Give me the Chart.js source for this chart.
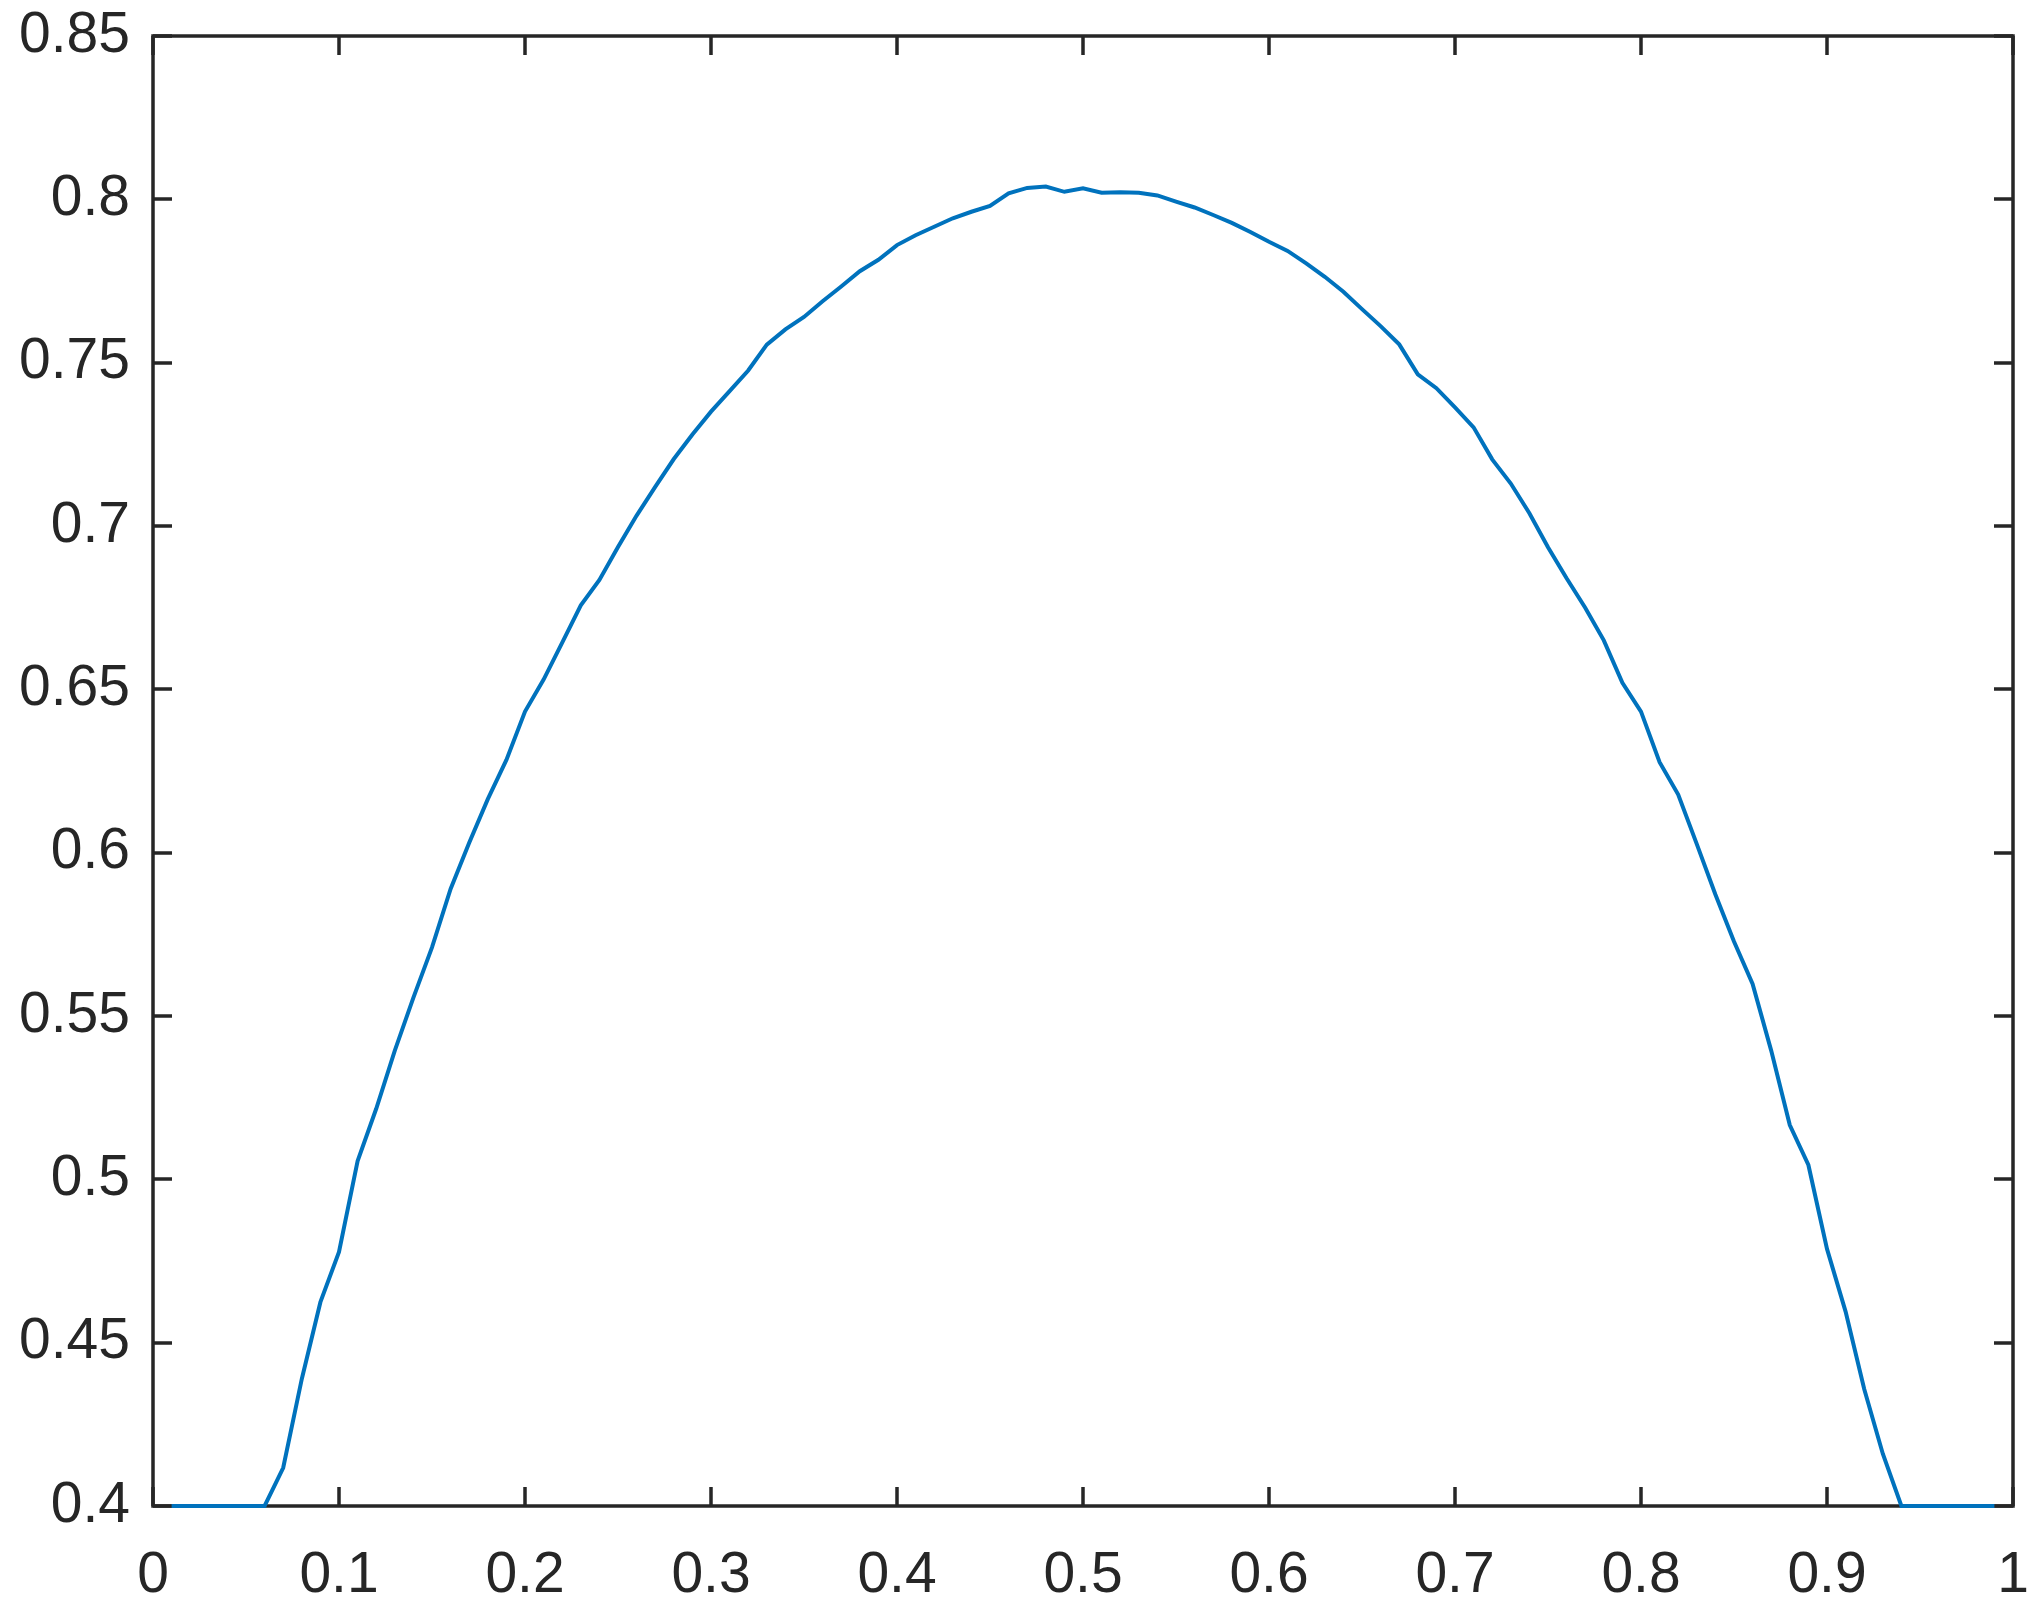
<!DOCTYPE html>
<html>
<head>
<meta charset="utf-8">
<script src="https://cdn.jsdelivr.net/npm/chart.js@4/dist/chart.umd.min.js"></script>
<style>
  html, body { margin: 0; padding: 0; background: #fff; }
  #chart { display: block; }
</style>
</head>
<body>
<canvas id="chart" width="2033" height="1605"></canvas>
<script>
// x positions of the samples
const xs = [
  0.01, 0.02, 0.03, 0.04, 0.05, 0.06, 0.07, 0.08, 0.09, 0.10,
  0.11, 0.12, 0.13, 0.14, 0.15, 0.16, 0.17, 0.18, 0.19, 0.20,
  0.21, 0.22, 0.23, 0.24, 0.25, 0.26, 0.27, 0.28, 0.29, 0.30,
  0.31, 0.32, 0.33, 0.34, 0.35, 0.36, 0.37, 0.38, 0.39, 0.40,
  0.41, 0.42, 0.43, 0.44, 0.45, 0.46, 0.47, 0.48, 0.49, 0.50,
  0.51, 0.52, 0.53, 0.54, 0.55, 0.56, 0.57, 0.58, 0.59, 0.60,
  0.61, 0.62, 0.63, 0.64, 0.65, 0.66, 0.67, 0.68, 0.69, 0.70,
  0.71, 0.72, 0.73, 0.74, 0.75, 0.76, 0.77, 0.78, 0.79, 0.80,
  0.81, 0.82, 0.83, 0.84, 0.85, 0.86, 0.87, 0.88, 0.89, 0.90,
  0.91, 0.92, 0.93, 0.94, 0.95, 0.96, 0.97, 0.98, 0.99
];

// curve values
const ys = [
  0.4000, 0.4000, 0.4000, 0.4000, 0.4000, 0.4000, 0.4117, 0.4389, 0.4624, 0.4778,
  0.5056, 0.5216, 0.5394, 0.5556, 0.5710, 0.5889, 0.6030, 0.6164, 0.6284, 0.6432,
  0.6530, 0.6643, 0.6757, 0.6835, 0.6936, 0.7032, 0.7120, 0.7205, 0.7280, 0.7350,
  0.7413, 0.7476, 0.7555, 0.7602, 0.7640, 0.7688, 0.7733, 0.7780, 0.7815, 0.7860,
  0.7890, 0.7916, 0.7942, 0.7962, 0.7980, 0.8018, 0.8035, 0.8039, 0.8023, 0.8034,
  0.8020, 0.8022, 0.8020, 0.8012, 0.7993, 0.7975, 0.7952, 0.7928, 0.7900, 0.7870,
  0.7842, 0.7804, 0.7763, 0.7717, 0.7664, 0.7612, 0.7556, 0.7464, 0.7422, 0.7363,
  0.7302, 0.7204, 0.7130, 0.7039, 0.6935, 0.6840, 0.6750, 0.6650, 0.6520, 0.6432,
  0.6277, 0.6178, 0.6026, 0.5872, 0.5728, 0.5598, 0.5394, 0.5166, 0.5044, 0.4787,
  0.4595, 0.4358, 0.4160, 0.4000, 0.4000, 0.4000, 0.4000, 0.4000, 0.4000
];

const xTicks = [0, 0.1, 0.2, 0.3, 0.4, 0.5, 0.6, 0.7, 0.8, 0.9, 1];
const yTicks = [0.4, 0.45, 0.5, 0.55, 0.6, 0.65, 0.7, 0.75, 0.8, 0.85];

const AXIS = '#262626';
const LINE = '#0072BD';
const FONT = { family: '"Liberation Sans", Arial, Helvetica, sans-serif', size: 57 };

const fmt = v => String(Number(v.toFixed(2)));

// box round the plot with inward ticks on all four sides
const boxPlugin = {
  id: 'box',
  beforeDatasetsDraw(chart) {
    const { ctx, chartArea: a, scales: { x, y } } = chart;
    const TL = 19;
    ctx.save();
    ctx.strokeStyle = AXIS;
    ctx.lineWidth = 3.5;
    ctx.beginPath();
    xTicks.forEach(v => {
      const px = Math.round(x.getPixelForValue(v));
      ctx.moveTo(px, a.bottom); ctx.lineTo(px, a.bottom - TL);
      ctx.moveTo(px, a.top);    ctx.lineTo(px, a.top + TL);
    });
    yTicks.forEach(v => {
      const py = Math.round(y.getPixelForValue(v));
      ctx.moveTo(a.left, py);  ctx.lineTo(a.left + TL, py);
      ctx.moveTo(a.right, py); ctx.lineTo(a.right - TL, py);
    });
    ctx.stroke();
    ctx.strokeRect(a.left, a.top, a.right - a.left, a.bottom - a.top);
    ctx.restore();
  }
};

new Chart(document.getElementById('chart').getContext('2d'), {
  type: 'line',
  data: {
    datasets: [{
      data: xs.map((v, i) => ({ x: v, y: ys[i] })),
      borderColor: LINE,
      borderWidth: 4,
      pointRadius: 0,
      tension: 0,
      fill: false,
      clip: 6
    }]
  },
  options: {
    responsive: false,
    devicePixelRatio: 1,
    animation: false,
    layout: { padding: { left: 0, right: 20, top: 36, bottom: 0 } },
    plugins: { legend: { display: false }, tooltip: { enabled: false } },
    scales: {
      x: {
        type: 'linear', min: 0, max: 1,
        grid: { display: false, drawTicks: false },
        border: { display: false },
        afterBuildTicks: s => { s.ticks = xTicks.map(v => ({ value: v })); },
        afterFit: s => { s.height = 99; s.paddingLeft = 0; s.paddingRight = 0; },
        ticks: { font: FONT, color: AXIS, padding: 36, maxRotation: 0, autoSkip: false, callback: fmt }
      },
      y: {
        type: 'linear', min: 0.4, max: 0.85,
        grid: { display: false, drawTicks: false },
        border: { display: false },
        afterBuildTicks: s => { s.ticks = yTicks.map(v => ({ value: v })); },
        afterFit: s => { s.width = 153; s.paddingTop = 0; s.paddingBottom = 0; },
        ticks: { font: FONT, color: AXIS, padding: 23, autoSkip: false, callback: fmt }
      }
    }
  },
  plugins: [boxPlugin]
});
</script>
</body>
</html>
